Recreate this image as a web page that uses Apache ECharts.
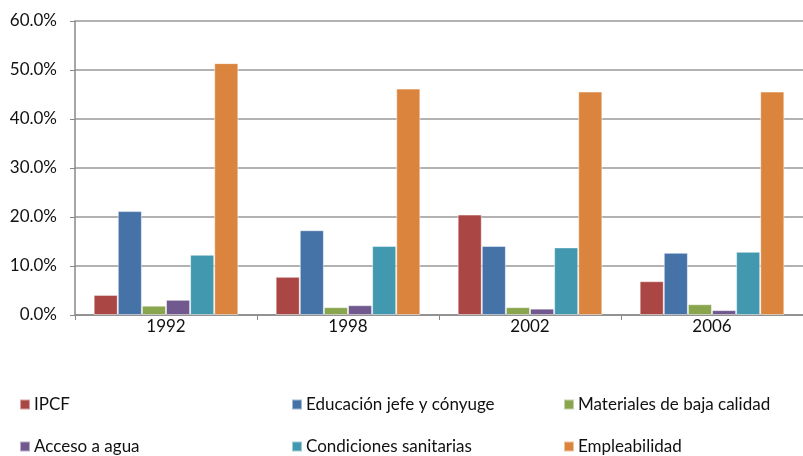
<!DOCTYPE html>
<html><head><meta charset="utf-8">
<script src="https://cdn.jsdelivr.net/npm/echarts@6/dist/echarts.min.js"></script>
<style>html,body{margin:0;padding:0;background:#fff}#c{width:803px;height:456px}</style>
</head><body><div id="c"></div>
<script>
const categories = ['1992','1998','2002','2006'];
const seriesNames = ['IPCF','Educación jefe y cónyuge','Materiales de baja calidad','Acceso a agua','Condiciones sanitarias','Empleabilidad'];
const ipcf = [4.1, 7.8, 20.5, 6.9];
const educacion = [21.2, 17.3, 14.1, 12.7];
const materiales = [1.9, 1.6, 1.6, 2.2];
const agua = [3.1, 2.0, 1.3, 1.0];
const sanitarias = [12.3, 14.1, 13.8, 12.9];
const empleabilidad = [51.4, 46.2, 45.6, 45.6];
const colors = ['#AA4643','#4572A7','#89A54E','#71588F','#4198AF','#DB843D'];
const allValues = [ipcf, educacion, materiales, agua, sanitarias, empleabilidad];

const chart = echarts.init(document.getElementById('c'));
const font = 'Lato, "Open Sans", sans-serif';
const legendPos = [
  {left: 19, top: 396}, {left: 291, top: 396}, {left: 563, top: 396},
  {left: 19, top: 438}, {left: 291, top: 438}, {left: 563, top: 438}
];
chart.setOption({
  animation: false,
  color: colors,
  grid: {left: 75, top: 21, bottom: 141, width: 736, containLabel: false},
  legend: seriesNames.map((n, i) => ({
    data: [n], left: legendPos[i].left, top: legendPos[i].top, padding: 0,
    itemWidth: 10, itemHeight: 10, itemGap: 5, icon: 'rect',
    textStyle: {fontFamily: font, fontSize: 17, color: '#111', padding: [0,0,0,-1]}
  })),
  xAxis: {
    type: 'category', data: categories,
    axisLine: {lineStyle: {color: '#888', width: 1.5}},
    axisTick: {show: true, length: 5, lineStyle: {color: '#888'}},
    axisLabel: {fontFamily: font, fontSize: 17, color: '#111', margin: 3}
  },
  yAxis: {
    type: 'value', min: 0, max: 60, interval: 10,
    axisLine: {show: true, lineStyle: {color: '#888', width: 1.5}},
    axisTick: {show: true, length: 5, lineStyle: {color: '#888'}},
    splitLine: {lineStyle: {color: '#999', width: 1.5}},
    axisLabel: {fontFamily: font, fontSize: 17, color: '#111', margin: 18,
      formatter: v => v.toFixed(1) + '%'}
  },
  series: seriesNames.map((n, i) => ({
    name: n, type: 'bar', data: allValues[i],
    barGap: '0%', barCategoryGap: '20.5%',
    itemStyle: {borderColor: 'rgba(255,255,255,0.5)', borderWidth: 1}
  }))
});
</script></body></html>
